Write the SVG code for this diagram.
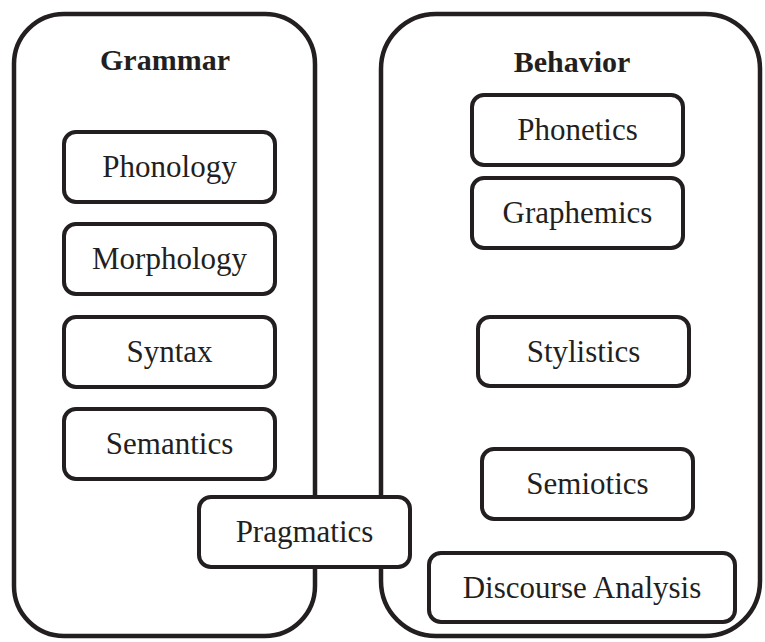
<svg xmlns="http://www.w3.org/2000/svg" width="765" height="642" viewBox="0 0 765 642">
<style>
.outer{fill:none;stroke:#231f20;stroke-width:4.5}
.box{fill:#fff;stroke:#231f20;stroke-width:4}
.lbl{font-family:"Liberation Serif","Times New Roman",serif;font-size:31px;fill:#231f20;text-anchor:middle}
.ttl{font-family:"Liberation Serif","Times New Roman",serif;font-size:30px;font-weight:bold;fill:#231f20;text-anchor:middle}
</style>
<rect width="765" height="642" fill="#fff"/>
<g id="grammar">
<rect class="outer" x="14" y="14" width="301" height="622" rx="50"/>
<text class="ttl" x="165" y="70">Grammar</text>
</g>
<g id="behavior">
<rect class="outer" x="381" y="14" width="379" height="622" rx="55"/>
<text class="ttl" x="572" y="72">Behavior</text>
</g>
<g id="phonology"><rect class="box" x="64" y="132" width="211" height="70" rx="12"/><text class="lbl" x="169.5" y="177">Phonology</text></g>
<g id="morphology"><rect class="box" x="64" y="224" width="211" height="70" rx="12"/><text class="lbl" x="169.5" y="269">Morphology</text></g>
<g id="syntax"><rect class="box" x="64" y="317" width="211" height="70" rx="12"/><text class="lbl" x="169.5" y="362">Syntax</text></g>
<g id="semantics"><rect class="box" x="64" y="409" width="211" height="70" rx="12"/><text class="lbl" x="169.5" y="454">Semantics</text></g>
<g id="pragmatics"><rect class="box" x="199" y="497" width="211" height="70" rx="12"/><text class="lbl" x="304.5" y="542">Pragmatics</text></g>
<g id="phonetics"><rect class="box" x="472" y="95" width="211" height="70" rx="12"/><text class="lbl" x="577.5" y="140">Phonetics</text></g>
<g id="graphemics"><rect class="box" x="472" y="178" width="211" height="70" rx="12"/><text class="lbl" x="577.5" y="223">Graphemics</text></g>
<g id="stylistics"><rect class="box" x="478" y="317" width="211" height="69" rx="12"/><text class="lbl" x="583.5" y="362">Stylistics</text></g>
<g id="semiotics"><rect class="box" x="482" y="449" width="211" height="70" rx="12"/><text class="lbl" x="587.5" y="494">Semiotics</text></g>
<g id="discourse"><rect class="box" x="429" y="553" width="306" height="69" rx="12"/><text class="lbl" x="582" y="598">Discourse Analysis</text></g>
</svg>
